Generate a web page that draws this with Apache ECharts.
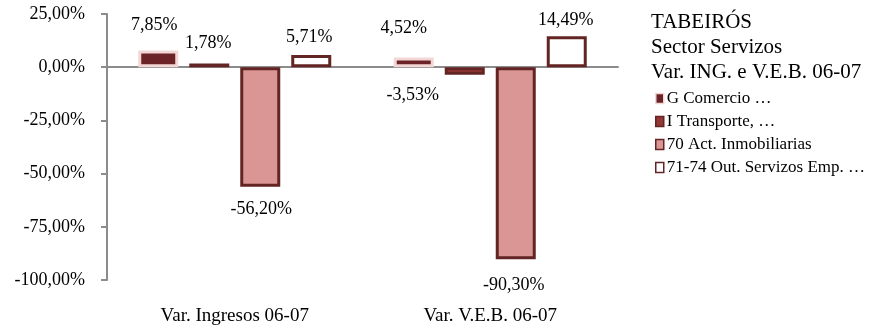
<!DOCTYPE html>
<html>
<head>
<meta charset="utf-8">
<script src="https://cdn.jsdelivr.net/npm/echarts@6/dist/echarts.min.js"></script>
<style>
  html, body { margin: 0; padding: 0; background: #fff; }
  #chart { width: 893px; height: 331px; }
</style>
</head>
<body>
<div id="chart"></div>
<script>
// Categories and series values (percent change 2006-07)
const categories = ['Var. Ingresos 06-07', 'Var. V.E.B. 06-07'];
const seriesNames = ['G Comercio …', 'I Transporte, …', '70 Act. Inmobiliarias', '71-74 Out. Servizos Emp. …'];
const comercio = [7.85, 4.52];
const transporte = [1.78, -3.53];
const inmobiliarias = [-56.20, -90.30];
const outServizos = [5.71, 14.49];
const yTicks = { min: -100, max: 25, step: 25 };
const titleLines = ['TABEIRÓS', 'Sector Servizos', 'Var. ING. e V.E.B. 06-07'];

const FONT = '"Liberation Serif", "Times New Roman", serif';
const DARK = '#632523';

// Per-bar label placement: [gap from bar end, horizontal shift]
const labelPlacement = [
  [[16, -4], [20, -10]],
  [[11, -1], [12, -52]],
  [[13, 1], [17, -2]],
  [[9, -2], [7, -1]]
];

const styles = [
  { color: '#6B2327', borderColor: '#F2D7D6', borderWidth: 3 },
  { color: '#953735', borderColor: DARK, borderWidth: 3 },
  { color: '#D99694', borderColor: DARK, borderWidth: 3 },
  { color: '#FFFFFF', borderColor: DARK, borderWidth: 3 }
];
const legendStyles = [
  { color: '#6B2327', borderColor: '#F2D7D6', borderWidth: 1.5 },
  { color: '#953735', borderColor: DARK, borderWidth: 1.5 },
  { color: '#D99694', borderColor: DARK, borderWidth: 1.5 },
  { color: '#FFFFFF', borderColor: DARK, borderWidth: 1.5 }
];

const fmt = v => v.toFixed(2).replace('.', ',') + '%';

const values = [comercio, transporte, inmobiliarias, outServizos];
const series = values.map((vals, s) => ({
  name: seriesNames[s],
  type: 'bar',
  xAxisIndex: 0,
  barWidth: 40,
  barGap: '27.5%',
  itemStyle: styles[s],
  data: vals.map((v, i) => ({
    value: v,
    label: {
      show: true,
      position: v >= 0 ? 'top' : 'bottom',
      distance: labelPlacement[s][i][0],
      offset: [labelPlacement[s][i][1], 0],
      formatter: p => fmt(p.value),
      fontFamily: FONT,
      fontSize: 18,
      color: '#000'
    }
  }))
}));

const chart = echarts.init(document.getElementById('chart'), null, { renderer: 'canvas' });
chart.setOption({
  animation: false,
  backgroundColor: '#fff',
  title: {
    text: titleLines.join('\n'),
    left: 646,
    top: 5,
    textStyle: { fontFamily: FONT, fontSize: 21, fontWeight: 'normal', color: '#000', lineHeight: 25 }
  },
  legend: {
    orient: 'vertical',
    left: 650,
    top: 85,
    itemWidth: 8,
    itemHeight: 10,
    itemGap: 6,
    icon: 'rect',
    selectedMode: false,
    textStyle: { fontFamily: FONT, fontSize: 17, color: '#000', padding: [0, 0, 0, -2] },
    data: seriesNames.map((n, i) => ({ name: n, itemStyle: legendStyles[i] }))
  },
  grid: { left: 107, right: 275, top: 14, bottom: 51, containLabel: false },
  xAxis: [
    {
      type: 'category',
      data: categories,
      position: 'bottom',
      axisLine: { show: false, onZero: false },
      axisTick: { show: false },
      axisLabel: { margin: 27, fontFamily: FONT, fontSize: 19, color: '#000' }
    },
    {
      type: 'category',
      data: categories,
      axisLine: { show: true, onZero: true, lineStyle: { color: '#8C8C8C', width: 2 } },
      axisTick: { show: false },
      axisLabel: { show: false }
    }
  ],
  yAxis: {
    type: 'value',
    min: yTicks.min,
    max: yTicks.max,
    interval: yTicks.step,
    axisLine: { show: true, lineStyle: { color: '#8C8C8C', width: 2 } },
    axisTick: { show: true, length: 6, lineStyle: { color: '#8C8C8C', width: 2 } },
    splitLine: { show: false },
    axisLabel: {
      margin: 22,
      fontFamily: FONT,
      fontSize: 18,
      color: '#000',
      formatter: v => fmt(v)
    }
  },
  series: series
});
</script>
</body>
</html>
